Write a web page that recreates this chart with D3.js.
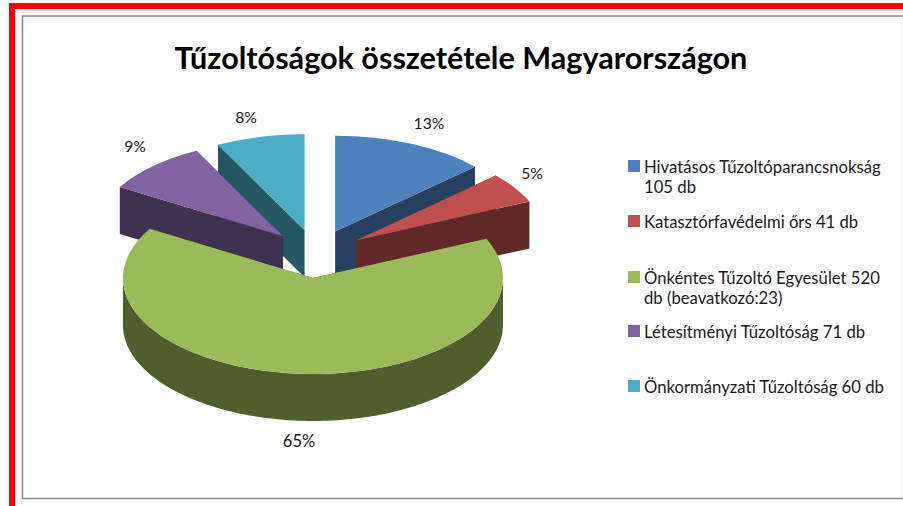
<!DOCTYPE html>
<html><head><meta charset="utf-8">
<script src="https://cdn.jsdelivr.net/npm/d3@7"></script>
<style>html,body{margin:0;padding:0;background:#fff}svg{display:block}text{font-family:Lato,"Open Sans",sans-serif;fill:#1a1a1a}</style>
</head><body><svg id="c" width="903" height="506"></svg>
<script>
const titleText = "Tűzoltóságok összetétele Magyarországon";
const categories = ["Hivatásos Tűzoltóparancsnokság 105 db","Katasztórfavédelmi őrs 41 db","Önkéntes Tűzoltó Egyesület 520 db (beavatkozó:23)","Létesítményi Tűzoltóság 71 db","Önkormányzati Tűzoltóság 60 db"];
const legendLines = [["Hivatásos Tűzoltóparancsnokság","105 db"],["Katasztórfavédelmi őrs 41 db"],["Önkéntes Tűzoltó Egyesület 520","db (beavatkozó:23)"],["Létesítményi Tűzoltóság 71 db"],["Önkormányzati Tűzoltóság 60 db"]];
const values = [105,41,520,71,60];
const percentLabels = ["13%","5%","65%","9%","8%"];
const topColors = ["#4F81BD","#C0504D","#9BBB59","#8064A2","#4BACC6"];
const wallColors = ["#27405F","#602827","#4E5E2C","#403151","#255763"];
const labelPos = [[429,129],[532,179],[299,447],[135,152],[246,123]];
const legendY = [160,215,271,325,380];

const W=903,H=506;
const cx=315.8, cy=253.8, rx=190, tilt=0.505, depth=47, explode=48;
const svg=d3.select("#c");

// frame
svg.append("rect").attr("x",9).attr("y",3).attr("width",W-9).attr("height",6).attr("fill","#FF0000");
svg.append("rect").attr("x",9).attr("y",3).attr("width",6).attr("height",H-3).attr("fill","#FF0000");
svg.append("rect").attr("x",22.5).attr("y",16).attr("width",W+10).attr("height",482.5).attr("fill","#fff").attr("stroke","#868686").attr("stroke-width",1.5);
svg.append("line").attr("x1",902.5).attr("x2",902.5).attr("y1",17).attr("y2",498).attr("stroke","#ececec");

svg.append("text").attr("x",461).attr("y",69).attr("text-anchor","middle")
  .attr("font-size",30.6).attr("font-weight",700).style("fill","#000").text(titleText);

const slices=d3.pie().sort(null).value(d=>d)(values);
const sx=d3.scaleLinear().domain([-1,1]).range([-rx,rx]);
const sy=d3.scaleLinear().domain([-1,1]).range([-rx*tilt,rx*tilt]);
const arc=d3.arc().innerRadius(0).outerRadius(1);
const off=s=>{const m=(s.startAngle+s.endAngle)/2;return [cx+explode*Math.sin(m), cy-explode*Math.cos(m)*tilt];};

const drawOrder=[4,3,0,1,2];
drawOrder.forEach(i=>{
  const s=slices[i],[ox,oy]=off(s);
  const g=svg.append("g").attr("transform",`translate(${ox},${oy})`);
  const wall=d3.area().x(a=>sx(a.r*Math.sin(a.t))).y0(a=>-sy(a.r*Math.cos(a.t))).y1(a=>-sy(a.r*Math.cos(a.t))+depth);
  // radial cut faces
  [s.startAngle,s.endAngle].forEach(t=>{
    g.append("path").attr("fill",wallColors[i]).attr("d",wall([{r:0,t},{r:1,t}]));
  });
  // outer wall, front half only
  const a0=Math.max(s.startAngle,Math.PI/2),a1=Math.min(s.endAngle,3*Math.PI/2);
  if(a1>a0){
    const n=120;
    g.append("path").attr("fill",wallColors[i]).attr("d",wall(d3.range(n+1).map(k=>({r:1,t:a0+(a1-a0)*k/n}))));
  }
  // top face
  g.append("path").attr("fill",topColors[i])
    .attr("transform",`scale(${rx},${rx*tilt})`).attr("d",arc(s));
});

percentLabels.forEach((t,i)=>{
  svg.append("text").attr("x",labelPos[i][0]).attr("y",labelPos[i][1]).attr("text-anchor","middle").attr("font-size",i===2?16.5:15.7).text(t);
});

categories.forEach((c,i)=>{
  const g=svg.append("g").attr("transform",`translate(628,${legendY[i]})`);
  g.append("rect").attr("width",12).attr("height",12).attr("fill",topColors[i]);
  legendLines[i].forEach((l,j)=>g.append("text").attr("x",16).attr("y",12.5+j*20.5).attr("font-size",16.7).text(l));
});
</script></body></html>
